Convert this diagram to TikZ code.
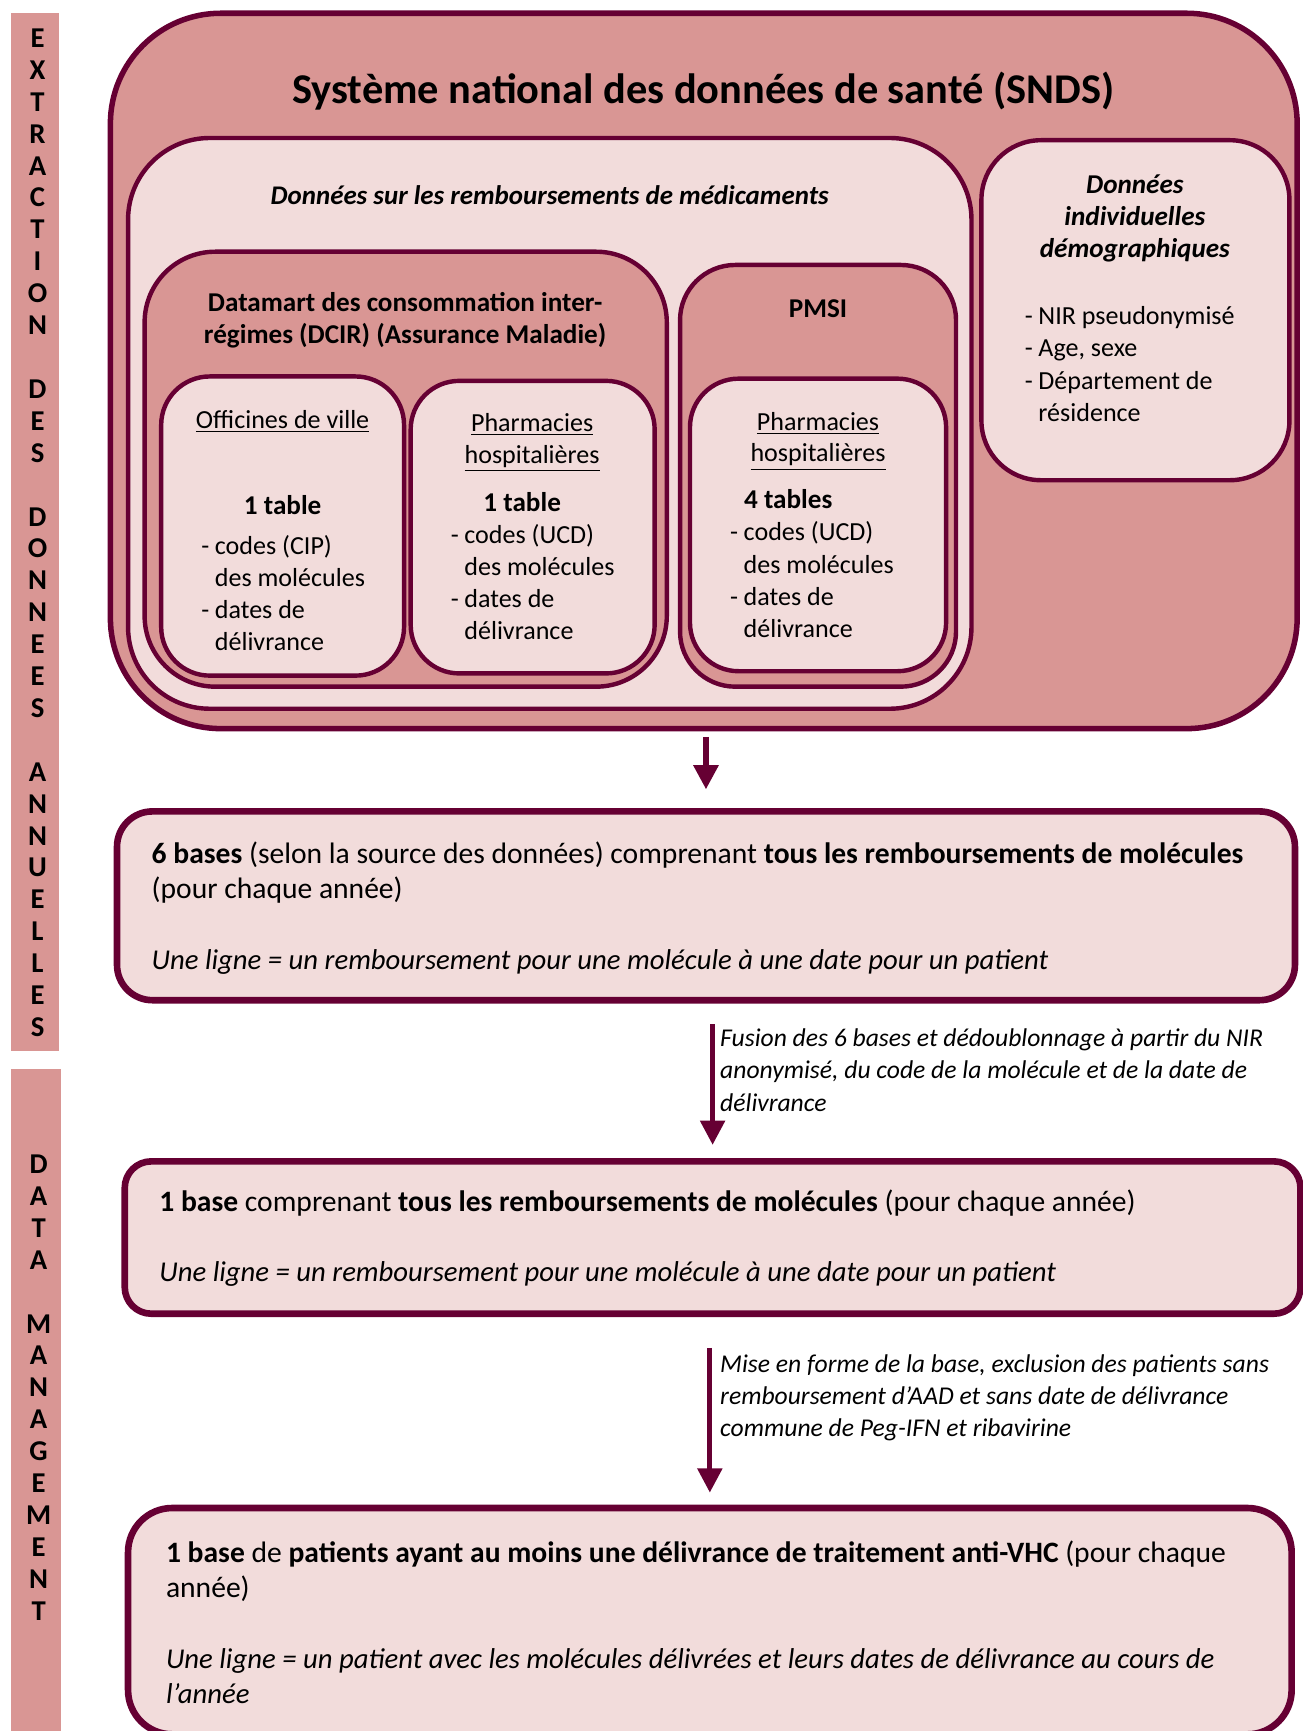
\documentclass[tikz,border=0pt]{standalone}
\usepackage{fontspec}
\setmainfont{Carlito}
\usetikzlibrary{arrows.meta}
\usetikzlibrary{fit}
\definecolor{wine}{HTML}{660033}
\definecolor{rosefill}{HTML}{D99694}
\definecolor{palerose}{HTML}{F2DCDB}
\newcommand{\itemdash}{\makebox[0.52em][l]{-}}
\newcommand{\indt}{\hspace*{0.52em}}
\newcommand{\lignetext}[1]{{\fontsize{13}{16}\selectfont\itshape #1}}

\begin{document}
\begin{tikzpicture}[line cap=round,line join=round,x=0.5pt,y=-0.5pt,
  frame/.style={draw=wine,line width=2pt,inner sep=0pt},
  rosebox/.style={frame,fill=rosefill},
  palebox/.style={frame,fill=palerose},
  flowbox/.style={palebox,line width=3pt},
  flowtext/.style={font=\fontsize{13.4}{16}\selectfont,align=flush left,text width=515pt,inner sep=0pt,anchor=base west},
  flowarrow/.style={draw=wine,line width=2.5pt,line cap=butt,-{Triangle[width=11pt,length=11pt]}},
  sideletters/.style={font=\fontsize{13}{14.45}\selectfont\bfseries,align=flush center,text width=20pt,inner sep=0pt,anchor=base},
  boxtitle/.style={font=\fontsize{12.3}{14.6}\selectfont\bfseries,align=flush center,inner sep=0pt,anchor=base},
  subtitle/.style={font=\fontsize{11.8}{14.2}\selectfont,align=flush center,text width=110pt,inner sep=0pt,anchor=base},
  listtext/.style={font=\fontsize{11.8}{14.6}\selectfont,align=flush left,text width=100pt,inner sep=0pt,anchor=base west},
  arrowlabel/.style={font=\fontsize{11.6}{14.6}\selectfont\itshape,align=flush left,text width=270pt,inner sep=0pt,anchor=base west}]
\useasboundingbox (0,0) rectangle (1180,1568);

% bandes laterales
\fill[rosefill] (10,12) rectangle (53,952);
\fill[rosefill] (10,968) rectangle (55,1568);
\node[sideletters] (extraction) at (34,43) {E\\X\\T\\R\\A\\C\\T\\I\\O\\N\\~\\D\\E\\S\\~\\D\\O\\N\\N\\E\\E\\S\\~\\A\\N\\N\\U\\E\\L\\L\\E\\S};
\node[sideletters] (management) at (35,1063) {D\\A\\T\\A\\~\\M\\A\\N\\A\\G\\E\\M\\E\\N\\T};

% SNDS
\node[rosebox,line width=2.5pt,rounded corners=50pt,fit={(100,12) (1175,660)}] (snds) {};
\node[font=\fontsize{19.2}{23}\selectfont\bfseries,anchor=base] (sndstitle) at (637,94) {Système national des données de santé (SNDS)};

\node[palebox,rounded corners=37pt,fit={(116,125) (880,642)}] (remb) {};
\node[boxtitle,font=\fontsize{12.2}{14.6}\selectfont\bfseries\itshape] (rembtitle) at (498,185) {Données sur les remboursements de médicaments};

% DCIR
\node[rosebox,rounded corners=32pt,fit={(131,228) (604,622)}] (dcir) {};
\node[boxtitle,text width=250pt] (dcirtitle) at (367,282) {Datamart des consommation inter-\\régimes (DCIR) (Assurance Maladie)};

\node[palebox,rounded corners=22pt,fit={(146,341) (366,612)}] (officines) {};
\node[subtitle] (offtitle) at (256,388) {\underline{Officines de ville}};
\node[boxtitle] (offcount) at (256,466) {1 table};
\node[listtext] (offlist) at (182,502) {\itemdash codes (CIP)\\\indt des molécules\\\itemdash dates de\\\indt délivrance};

\node[palebox,rounded corners=22pt,fit={(372,345) (593,610)}] (pharmdcir) {};
\node[subtitle] (pharmdcirtitle) at (482,391) {\underline{Pharmacies}\\\underline{hospitalières}};
\node[boxtitle] (pharmdcircount) at (473,463) {1 table};
\node[listtext] (pharmdcirlist) at (408,492) {\itemdash codes (UCD)\\\indt des molécules\\\itemdash dates de\\\indt délivrance};

% PMSI
\node[rosebox,rounded corners=25pt,fit={(616,240) (866,622)}] (pmsi) {};
\node[boxtitle] (pmsititle) at (741,288) {PMSI};

\node[palebox,rounded corners=22pt,fit={(625,343) (857,608)}] (pharmpmsi) {};
\node[subtitle] (pharmpmsititle) at (741,390) {\underline{Pharmacies}\\\underline{hospitalières}};
\node[boxtitle] (pharmpmsicount) at (714,461) {4 tables};
\node[listtext] (pharmpmsilist) at (661,490) {\itemdash codes (UCD)\\\indt des molécules\\\itemdash dates de\\\indt délivrance};

% donnees demographiques
\node[palebox,rounded corners=27pt,fit={(889,127) (1168,435)}] (demo) {};
\node[boxtitle,font=\fontsize{12.3}{14.6}\selectfont\bfseries\itshape,text width=130pt] (demotitle) at (1028,175) {Données\\individuelles\\démographiques};
\node[listtext,text width=120pt] (demolist) at (928,294) {\itemdash NIR pseudonymisé\\\itemdash Age, sexe\\\itemdash Département de\\\indt résidence};

% bases
\node[flowbox,rounded corners=16pt,fit={(106,735) (1173,906)}] (sixbases) {};
\node[flowtext] (sixtext) at (137,782) {\textbf{6 bases} (selon la source des données) comprenant \textbf{tous les remboursements de molécules}\\(pour chaque année)\\[16pt]\lignetext{Une ligne = un remboursement pour une molécule à une date pour un patient}};

\node[flowbox,rounded corners=12pt,fit={(113,1052) (1178,1190)}] (onebase) {};
\node[flowtext] (onetext) at (144,1097) {\textbf{1 base} comprenant \textbf{tous les remboursements de molécules} (pour chaque année)\\[16pt]\lignetext{Une ligne = un remboursement pour une molécule à une date pour un patient}};

\node[flowbox,rounded corners=20pt,fit={(116,1366) (1170,1571)}] (patients) {};
\node[flowtext] (patientstext) at (150,1415) {\textbf{1 base} de \textbf{patients ayant au moins une délivrance de traitement anti-VHC} (pour chaque\\année)\\[16pt]\lignetext{Une ligne = un patient avec les molécules délivrées et leurs dates de délivrance au cours de\\l’année}};

% fleches
\draw[flowarrow,shorten <=2.5pt,shorten >=8.5pt] (snds.south -| sixbases.north) -- (sixbases.north);
\draw[flowarrow,line width=2.2pt,shorten <=9.5pt,shorten >=6pt] (onebase.north |- sixbases.south) -- (onebase.north);
\draw[flowarrow,line width=2.2pt,shorten <=14pt,shorten >=5.5pt] (patients.north |- onebase.south) -- (patients.north);
\node[arrowlabel] (fusionlabel) at (652,948) {Fusion des 6 bases et dédoublonnage à partir du NIR\\anonymisé, du code de la molécule et de la date de\\délivrance};
\node[arrowlabel] (formelabel) at (652,1243) {Mise en forme de la base, exclusion des patients sans\\remboursement d’AAD et sans date de délivrance\\commune de Peg-IFN et ribavirine};
\end{tikzpicture}
\end{document}
